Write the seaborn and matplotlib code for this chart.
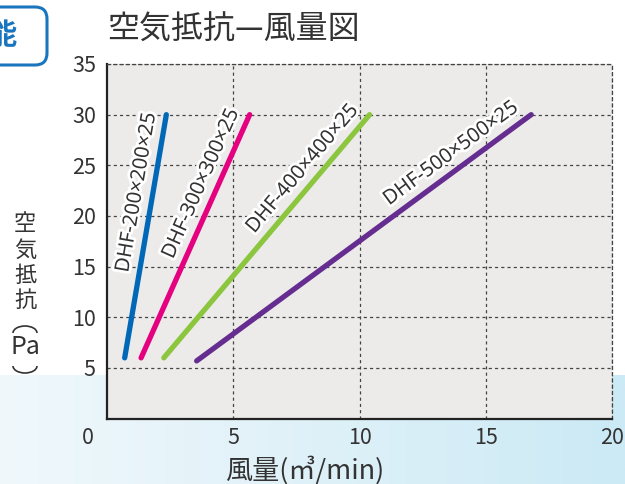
import numpy as np
import pandas as pd
import seaborn as sns
import matplotlib.pyplot as plt
import matplotlib.patheffects as pe
from matplotlib.patches import FancyBboxPatch, Arc

# 空気抵抗—風量図 data
models = ["DHF-200×200×25", "DHF-300×300×25", "DHF-400×400×25", "DHF-500×500×25"]
flow_start = [0.7, 1.35, 2.25, 3.55]
flow_end = [2.35, 5.65, 10.4, 16.8]
pres_start = [6.0, 6.0, 6.0, 5.7]
pres_end = [30.0, 30.0, 30.0, 30.0]
colors = ["#0068b7", "#e4007f", "#8cc63f", "#662d91"]
x_ticks = [5, 10, 15, 20]
y_ticks = [5, 10, 15, 20, 25, 30, 35]

rows = []
for m, x0, x1, y0, y1 in zip(models, flow_start, flow_end, pres_start, pres_end):
    rows.append({"model": m, "flow": x0, "pres": y0})
    rows.append({"model": m, "flow": x1, "pres": y1})
df = pd.DataFrame(rows)

sns.set_theme(style="white")
plt.rcParams["font.family"] = ["Noto Sans CJK JP", "DejaVu Sans"]

fig = plt.figure(figsize=(6.25, 4.84), dpi=100)
fig.patch.set_facecolor("white")

# light blue band at the bottom
bg = fig.add_axes([0, 0, 1, 1], zorder=-5)
grad = np.linspace(0, 1, 256).reshape(1, -1)
bg.imshow(grad, extent=[0, 1, 0, 109 / 484], aspect="auto",
          cmap=sns.blend_palette(["#f0f8fc", "#dff1f8", "#cbeaf5"], as_cmap=True))
bg.set_xlim(0, 1)
bg.set_ylim(0, 1)
bg.axis("off")

# partial heading box at top-left
box = FancyBboxPatch((-30, 419), 77, 58, boxstyle="round,pad=0,rounding_size=12",
                     transform=None, fill=False, edgecolor="#1a75bf", linewidth=2.2,
                     figure=fig)
fig.patches.append(box)
fig.text(16 / 625, 1 - 35 / 484, "能", ha="right", va="center", fontsize=21,
         fontweight="bold", color="#1a75bf")

ax = fig.add_axes([107 / 625, 0.135, 505 / 625, 0.7328])
ax.set_facecolor("#ecebea")

sns.lineplot(data=df, x="flow", y="pres", hue="model", palette=colors,
             linewidth=3.8, legend=False, ax=ax)
for l in ax.lines:
    l.set_solid_capstyle("round")
    l.set_clip_on(False)

ax.set_xlim(0, 20)
ax.set_ylim(0, 35)
ax.set_xticks(x_ticks)
ax.set_yticks(y_ticks)
ax.grid(True, linestyle=(0, (2.5, 2.5)), color="#444444", linewidth=0.9)
ax.tick_params(length=0, labelsize=15.5, colors="#333333")
ax.tick_params(axis="x", pad=6)
ax.tick_params(axis="y", pad=8)
ax.set_xlabel("")
ax.set_ylabel("")
for s in ["left", "bottom"]:
    ax.spines[s].set_color("#222222")
    ax.spines[s].set_linewidth(1.6)
for s in ["top", "right"]:
    ax.spines[s].set_color("#444444")
    ax.spines[s].set_linewidth(0.9)
    ax.spines[s].set_linestyle((0, (2.5, 2.5)))

ax.annotate("0", xy=(0, 0), xycoords="axes fraction", xytext=(-13.7, -6),
            textcoords="offset points", ha="center", va="top", fontsize=15.5,
            color="#333333")

# labels along lines
label_pos = [0.67, 0.69, 0.735, 0.79]
for m, x0, x1, y0, y1, t in zip(models, flow_start, flow_end, pres_start, pres_end, label_pos):
    p0 = ax.transData.transform((x0, y0))
    p1 = ax.transData.transform((x1, y1))
    ang = np.arctan2(p1[1] - p0[1], p1[0] - p0[0])
    off = 11.5
    ax.annotate(m, xy=(x0 + t * (x1 - x0), y0 + t * (y1 - y0)),
                xytext=(-np.sin(ang) * off, np.cos(ang) * off), textcoords="offset points",
                rotation=np.degrees(ang), rotation_mode="anchor", ha="center", va="center",
                fontsize=14.5, color="#333333", family=["Noto Sans", "DejaVu Sans"],
                path_effects=[pe.withStroke(linewidth=4, foreground="white")])

fig.text(107 / 625, 1 - 30 / 484, "空気抵抗—風量図", ha="left", va="center",
         fontsize=23, color="#333333")
fig.text(225 / 625, 1 - 470 / 484, "風量(㎥/min)", ha="left", va="center",
         fontsize=19.5, color="#333333")

# vertical y label, one glyph per row, brackets drawn as arcs (vertical forms)
ylab_chars = ["空", "気", "抵", "抗"]
ylab_rows = [224, 250, 275, 300]
for ch, yy in zip(ylab_chars, ylab_rows):
    fig.text(25 / 625, 1 - yy / 484, ch, ha="center", va="center",
             fontsize=16, color="#333333")
fig.text(25 / 625, 1 - 347 / 484, "Pa", ha="center", va="center",
         fontsize=18, color="#333333")
fig.patches.append(Arc((25, 484 - 333), 24, 14, theta1=0, theta2=180, transform=None,
                       color="#333333", linewidth=1.2, figure=fig))
fig.patches.append(Arc((25, 484 - 366), 24, 14, theta1=180, theta2=360, transform=None,
                       color="#333333", linewidth=1.2, figure=fig))

fig.savefig("out.png", dpi=100)
